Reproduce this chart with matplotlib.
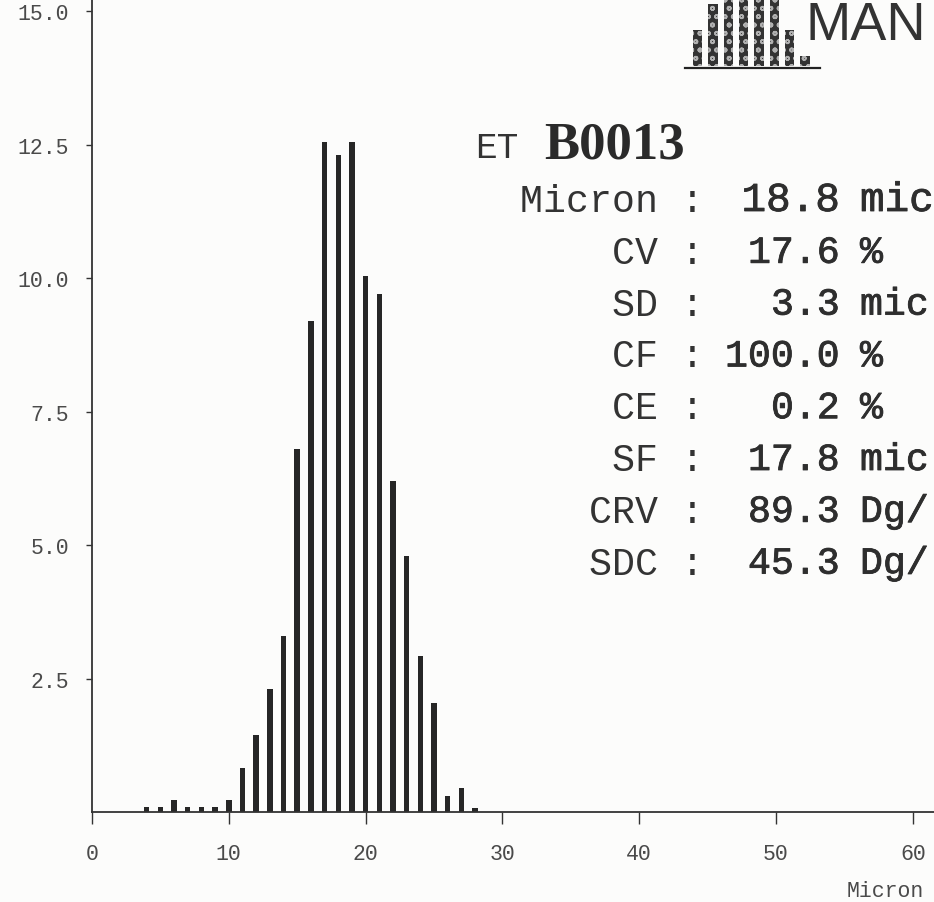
import numpy as np
import matplotlib.pyplot as plt
import matplotlib.patheffects as pe

micron = [4, 5, 6, 7, 8, 9, 10, 11, 12, 13, 14, 15, 16, 17, 18, 19, 20,
          21, 22, 23, 24, 25, 26, 27, 28]
percent = [0.1, 0.1, 0.22, 0.1, 0.1, 0.1, 0.22, 0.82, 1.45, 2.3, 3.3, 6.8,
           9.2, 12.55, 12.3, 12.55, 10.05, 9.7, 6.2, 4.8, 2.92, 2.05, 0.3,
           0.45, 0.07]

y_ticks = [2.5, 5.0, 7.5, 10.0, 12.5, 15.0]
x_ticks = [0, 10, 20, 30, 40, 50, 60]

sample_prefix = "ET"
sample_id = "B0013"
stat_labels = ["Micron", "CV", "SD", "CF", "CE", "SF", "CRV", "SDC"]
stat_values = ["18.8", "17.6", "3.3", "100.0", "0.2", "17.8", "89.3", "45.3"]
stat_units = ["mic", "%", "mic", "%", "%", "mic", "Dg/", "Dg/"]

logo_heights = [36, 62, 80, 80, 80, 80, 36, 10]

W, H = 934, 903
paper = "#fcfcfb"
ink = "#262626"
mono = "Liberation Mono"

fig = plt.figure(figsize=(W / 100, H / 100), dpi=100, facecolor=paper)


def fx(px):
    return px / W


def fy(py):
    return 1 - py / H


# main histogram
ax = fig.add_axes([fx(92), fy(813), fx(W) - fx(92), fy(0) - fy(813)])
ax.set_facecolor(paper)
ax.bar(micron, percent, width=0.4, color=ink, linewidth=0)
ax.set_xlim(0, (W - 92) / 13.68)
ax.set_ylim(0, 15.23)

for s in ["top", "right"]:
    ax.spines[s].set_visible(False)
for s in ["left", "bottom"]:
    ax.spines[s].set_color("#333333")
    ax.spines[s].set_linewidth(1.3)

ax.set_yticks(y_ticks)
ax.set_yticklabels([f"{v:.1f}" for v in y_ticks])
ax.set_xticks(x_ticks)
ax.set_xticklabels([str(v) for v in x_ticks])
ax.tick_params(axis="y", direction="out", length=4.5, width=1, color="#333333",
               pad=12, labelsize=15.5, labelcolor="#4a4a4a")
ax.tick_params(axis="x", direction="out", length=8.5, width=1, color="#333333",
               pad=14, labelsize=15.5, labelcolor="#4a4a4a")
for lab in ax.get_xticklabels() + ax.get_yticklabels():
    lab.set_family(mono)

fig.text(fx(924), fy(902), "Micron", ha="right", va="bottom",
         family=mono, fontsize=15.5, color="#4a4a4a")

# logo in the top right corner
lax = fig.add_axes([fx(685), fy(69), fx(135), fy(0) - fy(69)])
lax.set_facecolor("none")
plt.rcParams["hatch.linewidth"] = 1.2
lax.bar(range(len(logo_heights)), logo_heights, width=0.62,
        color="#333333", edgecolor="#b0b0b0", hatch="oo", linewidth=0)
lax.set_xlim(-0.82, 7.98)
lax.set_ylim(-2, 67)
lax.set_xticks([])
lax.set_yticks([])
for s in ["top", "right", "left"]:
    lax.spines[s].set_visible(False)
lax.spines["bottom"].set_color("#222222")
lax.spines["bottom"].set_linewidth(1.6)
fig.text(fx(805), fy(40), "MAN", ha="left", va="baseline",
         family="Liberation Sans", fontsize=39, color="#333333")

# sample id
fig.text(fx(475), fy(158), sample_prefix, ha="left", va="baseline",
         family=mono, fontsize=26, color="#333333")
fig.text(fx(544), fy(159), sample_id, ha="left", va="baseline",
         family="Liberation Serif", fontweight="bold", fontsize=38,
         color="#2a2a2a")

# statistics block
thick = [pe.withStroke(linewidth=0.6, foreground="#2e2e2e")]
for i, (lab, val, unit) in enumerate(zip(stat_labels, stat_values, stat_units)):
    base = 212 + 51.8 * i
    size = 29.5 if i == 0 else 27.5
    fig.text(fx(704), fy(base), f"{lab} :", ha="right", va="baseline",
             family=mono, fontsize=27.5, color="#333333")
    fig.text(fx(840), fy(base), val, ha="right", va="baseline",
             family=mono, fontsize=size, color="#2e2e2e", path_effects=thick)
    fig.text(fx(860), fy(base), unit, ha="left", va="baseline",
             family=mono, fontsize=size, color="#2e2e2e", path_effects=thick)

fig.savefig("out.png", dpi=100, facecolor=paper)
